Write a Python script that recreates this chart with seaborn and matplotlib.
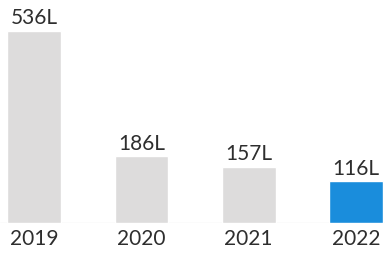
import numpy as np
import pandas as pd
import matplotlib
matplotlib.use("Agg")
import matplotlib.pyplot as plt
import seaborn as sns

years = ["2019", "2020", "2021", "2022"]
values = [536, 186, 157, 116]
labels = ["536L", "186L", "157L", "116L"]
colors = ["#dddcdc", "#dddcdc", "#dddcdc", "#1a8ddc"]

sns.set_style("white")
plt.rcParams["font.family"] = ["Lato", "DejaVu Sans"]

df = pd.DataFrame({"year": years, "value": values})

fig = plt.figure(figsize=(3.85, 2.61), dpi=100)
ax = fig.add_axes([0, 38 / 261, 1, 223 / 261])
sns.barplot(data=df, x="year", y="value", hue="year", palette=colors,
            width=0.5, legend=False, saturation=1, ax=ax)

ax.axhline(0, color="#ececec", lw=1, zorder=0)
for c, lab in zip(ax.containers, labels):
    ax.bar_label(c, labels=[lab], padding=2, fontsize=15, color="#2e2e2e")

ax.set_xlim(-0.317, 3.27)
ax.set_ylim(0, 536 * 223 / 192)
ax.set_xlabel("")
ax.set_ylabel("")
ax.set_yticks([])
ax.tick_params(axis="x", length=0, pad=4, labelsize=15, labelcolor="#2e2e2e")
sns.despine(ax=ax, left=True, bottom=True)

fig.savefig("out.png", dpi=100)
